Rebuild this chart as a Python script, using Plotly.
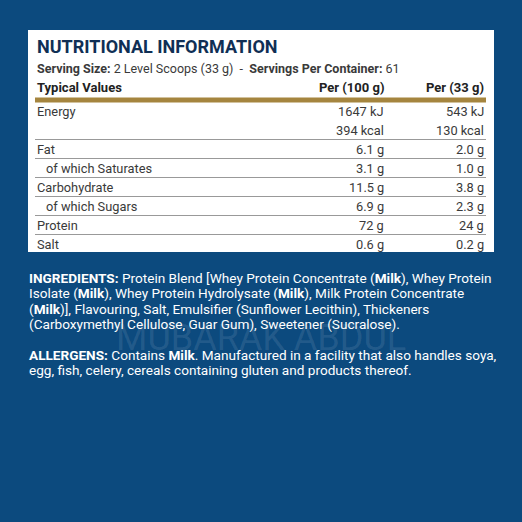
import plotly.graph_objects as go

# -- Daten ---------------------------------------------------------------------
title = "NUTRITIONAL INFORMATION"
serving = "<b>Serving Size:</b> 2 Level Scoops (33 g)  -  <b>Servings Per Container:</b> 61"
headers = ["Typical Values", "Per (100 g)", "Per (33 g)"]
labels = ["Energy", "", "Fat", "of which Saturates", "Carbohydrate", "of which Sugars", "Protein", "Salt"]
indent = [False, False, False, True, False, True, False, False]
per100 = ["1647 kJ", "394 kcal", "6.1 g", "3.1 g", "11.5 g", "6.9 g", "72 g", "0.6 g"]
per33 = ["543 kJ", "130 kcal", "2.0 g", "1.0 g", "3.8 g", "2.3 g", "24 g", "0.2 g"]
ingredients = [
    "<b>INGREDIENTS:</b> Protein Blend [Whey Protein Concentrate (<b>Milk</b>), Whey Protein",
    "Isolate (<b>Milk</b>), Whey Protein Hydrolysate (<b>Milk</b>), Milk Protein Concentrate",
    "(<b>Milk</b>)], Flavouring, Salt, Emulsifier (Sunflower Lecithin), Thickeners",
    "(Carboxymethyl Cellulose, Guar Gum), Sweetener (Sucralose).",
]
allergens = [
    "<b>ALLERGENS:</b> Contains <b>Milk</b>. Manufactured in a facility that also handles soya,",
    "egg, fish, celery, cereals containing gluten and products thereof.",
]

BLUE = "#0c4a7e"
NAVY = "#102f55"
GOLD = "#a5853f"
GREY = "#3a3a3a"
FONT = "Roboto"

fig = go.Figure()
shapes = [dict(type="rect", x0=28, x1=494, y0=30, y1=252, fillcolor="white", line_width=0, layer="below")]
ann = []

def txt(x, y, s, size=12, color=GREY, anchor="left"):
    ann.append(dict(x=x, y=y, text=s, showarrow=False, xanchor=anchor, yanchor="middle",
                    font=dict(family=FONT, size=size, color=color)))

txt(35, 46, "<b>" + title + "</b>", size=18, color=NAVY)
txt(35, 68, serving, size=12.5)
txt(35, 87, "<b>" + headers[0] + "</b>", size=13, color="#222")
txt(386, 87, "<b>" + headers[1] + "</b>", size=13, color="#222", anchor="right")
txt(486, 87, "<b>" + headers[2] + "</b>", size=13, color="#222", anchor="right")
shapes.append(dict(type="line", x0=35, x1=486, y0=100, y1=100, line=dict(color=GOLD, width=5)))

row_y = [111, 130, 149, 168, 187, 206, 225, 244]
for i, lab in enumerate(labels):
    y = row_y[i]
    txt(44 if indent[i] else 35, y, lab, size=12.8)
    txt(386, y, per100[i], size=12.8, anchor="right")
    txt(486, y, per33[i], size=12.8, anchor="right")
    if 1 <= i < len(labels) - 1:
        shapes.append(dict(type="line", x0=35, x1=486, y0=y + 9.5, y1=y + 9.5,
                           line=dict(color="#999", width=1)))

for j, line in enumerate(ingredients):
    txt(27, 278 + j * 15.3, line, size=13.6, color="white")
for j, line in enumerate(allergens):
    txt(27, 355 + j * 15.3, line, size=13.6, color="white")

txt(261, 338, "MUBARAK ABDUL", size=36, color="rgba(255,255,255,0.1)", anchor="center")

fig.update_layout(
    width=522, height=522, margin=dict(l=0, r=0, t=0, b=0),
    paper_bgcolor=BLUE, plot_bgcolor=BLUE,
    xaxis=dict(range=[0, 522], visible=False, fixedrange=True),
    yaxis=dict(range=[522, 0], visible=False, fixedrange=True),
    shapes=shapes, annotations=ann, showlegend=False,
)

# Browser-Rand entfernen, Hintergrund blau, keine Modebar
fig.write_html("out.html", config={"displayModeBar": False}, post_script=(
    "document.body.style.margin='0';document.body.style.background='" + BLUE + "';"
    "document.body.style.overflow='hidden';"
))
